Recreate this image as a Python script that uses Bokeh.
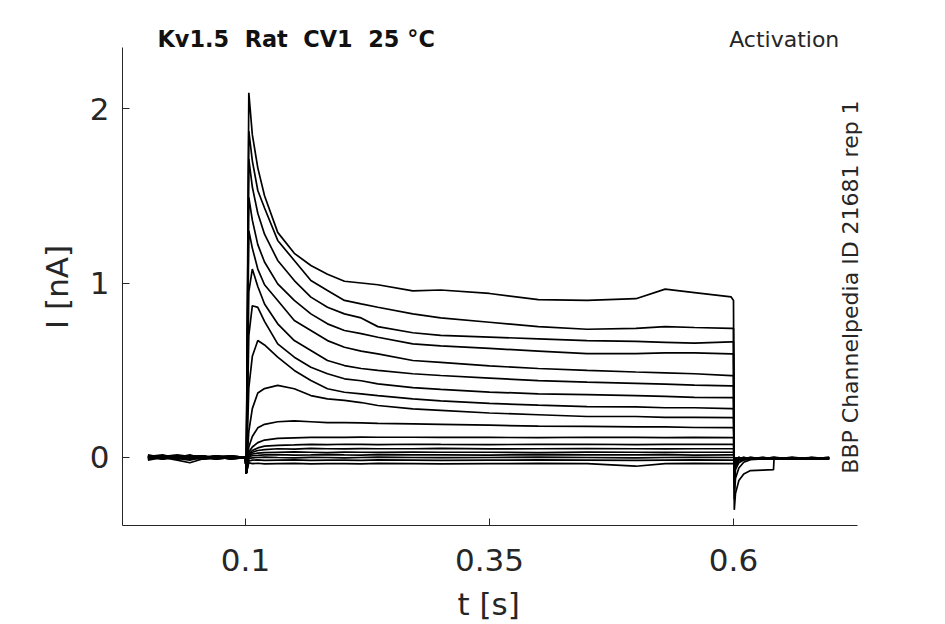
import math
from bokeh.plotting import figure
from bokeh.models import ColumnDataSource, Range1d, FixedTicker, Label
from bokeh.embed import file_html
from bokeh.resources import INLINE

# time grids [s]
PRE_T = [0.0, 0.015, 0.03, 0.043, 0.055, 0.07, 0.085]
STEP_T = [0.1, 0.1008, 0.1034, 0.107, 0.1126, 0.1195, 0.133, 0.15, 0.167, 0.184,
          0.2014, 0.2185, 0.2356, 0.2714, 0.30, 0.35, 0.40, 0.45, 0.50, 0.53, 0.56, 0.5976]
TAIL_T = [0.6, 0.6008, 0.602, 0.6055, 0.6105, 0.6174, 0.63, 0.641, 0.6415, 0.66, 0.68, 0.698]

# current [nA] before the step, one row per trace
PRE_I = [
    [0.005, 0.0, 0.01, -0.005, 0.0, 0.005, 0.0],
    [-0.005, 0.01, 0.0, 0.005, -0.01, 0.0, 0.01],
    [0.01, -0.005, 0.005, 0.0, 0.01, -0.005, 0.005],
    [0.0, 0.005, -0.01, 0.01, 0.0, 0.01, -0.005],
    [0.015, 0.0, 0.005, 0.01, 0.005, -0.01, 0.0],
    [-0.01, 0.005, 0.0, -0.005, 0.01, 0.0, 0.005],
    [0.0, -0.01, 0.01, 0.0, -0.005, 0.005, -0.01],
    [0.005, 0.015, -0.005, 0.005, 0.0, -0.005, 0.01],
    [-0.015, 0.0, 0.005, -0.01, -0.005, 0.01, 0.0],
    [0.0, 0.005, 0.015, 0.005, 0.01, 0.0, -0.005],
    [0.01, -0.01, 0.0, 0.015, -0.005, 0.005, 0.005],
    [-0.005, 0.005, -0.01, 0.0, 0.005, -0.01, 0.0],
    [0.005, -0.005, 0.01, -0.01, 0.005, 0.0, -0.005],
    [0.0, 0.01, -0.005, 0.005, -0.01, 0.005, 0.01],
    [-0.01, 0.0, 0.005, -0.005, 0.0, 0.01, -0.005],
    [0.005, -0.005, 0.0, 0.005, 0.01, -0.005, 0.0],
    [0.0, 0.005, -0.005, -0.015, 0.0, 0.005, -0.01],
    [-0.005, 0.0, -0.015, -0.03, -0.01, -0.005, 0.005],
]

# current [nA] during the step
STEP_I = [
    [0.0, -0.09, 2.09, 1.85, 1.66, 1.50, 1.29, 1.17, 1.10, 1.05, 1.01, 1.00, 0.99, 0.955, 0.96, 0.94, 0.905, 0.90, 0.91, 0.965, 0.945, 0.92],
    [0.0, -0.09, 1.87, 1.70, 1.53, 1.43, 1.244, 1.129, 1.014, 0.957, 0.90, 0.88, 0.861, 0.823, 0.80, 0.775, 0.75, 0.735, 0.74, 0.75, 0.745, 0.74],
    [0.0, -0.09, 1.71, 1.55, 1.40, 1.28, 1.129, 1.014, 0.919, 0.861, 0.823, 0.80, 0.75, 0.715, 0.70, 0.69, 0.68, 0.67, 0.665, 0.66, 0.655, 0.663],
    [0.0, -0.09, 1.49, 1.36, 1.22, 1.12, 0.995, 0.90, 0.823, 0.766, 0.728, 0.71, 0.689, 0.651, 0.64, 0.625, 0.61, 0.595, 0.595, 0.60, 0.60, 0.594],
    [0.0, -0.09, 1.30, 1.20, 1.08, 0.99, 0.90, 0.785, 0.728, 0.67, 0.632, 0.61, 0.594, 0.556, 0.545, 0.525, 0.51, 0.499, 0.49, 0.485, 0.48, 0.469],
    [0.0, -0.09, 0.95, 1.08, 0.98, 0.88, 0.766, 0.67, 0.613, 0.556, 0.527, 0.51, 0.499, 0.48, 0.47, 0.455, 0.44, 0.432, 0.425, 0.42, 0.415, 0.411],
    [0.0, -0.09, 0.70, 0.87, 0.86, 0.78, 0.651, 0.575, 0.517, 0.48, 0.451, 0.44, 0.422, 0.40, 0.39, 0.375, 0.365, 0.36, 0.355, 0.35, 0.345, 0.343],
    [0.0, -0.09, 0.40, 0.58, 0.67, 0.645, 0.575, 0.499, 0.441, 0.394, 0.374, 0.365, 0.355, 0.336, 0.325, 0.31, 0.30, 0.292, 0.29, 0.285, 0.285, 0.28],
    [0.0, -0.09, 0.15, 0.28, 0.37, 0.395, 0.413, 0.394, 0.355, 0.336, 0.327, 0.315, 0.298, 0.279, 0.27, 0.255, 0.245, 0.235, 0.235, 0.23, 0.23, 0.229],
    [0.0, -0.09, 0.06, 0.12, 0.17, 0.19, 0.205, 0.21, 0.205, 0.20, 0.20, 0.198, 0.196, 0.193, 0.19, 0.185, 0.18, 0.178, 0.175, 0.175, 0.172, 0.171],
    [0.0, -0.09, 0.03, 0.06, 0.085, 0.10, 0.11, 0.113, 0.115, 0.116, 0.115, 0.117, 0.116, 0.116, 0.115, 0.115, 0.114, 0.116, 0.115, 0.114, 0.115, 0.114],
    [0.0, -0.09, 0.02, 0.04, 0.055, 0.065, 0.07, 0.072, 0.075, 0.074, 0.076, 0.075, 0.074, 0.076, 0.075, 0.074, 0.075, 0.076, 0.074, 0.075, 0.076, 0.075],
    [0.0, -0.09, 0.015, 0.03, 0.04, 0.045, 0.05, 0.048, 0.052, 0.05, 0.049, 0.051, 0.05, 0.05, 0.052, 0.049, 0.05, 0.051, 0.05, 0.049, 0.05, 0.05],
    [0.0, -0.09, 0.01, 0.02, 0.025, 0.028, 0.03, 0.032, 0.03, 0.028, 0.031, 0.03, 0.029, 0.031, 0.03, 0.03, 0.028, 0.031, 0.03, 0.029, 0.03, 0.03],
    [0.0, -0.09, 0.005, 0.01, 0.012, 0.015, 0.016, 0.014, 0.015, 0.017, 0.015, 0.014, 0.016, 0.015, 0.015, 0.014, 0.016, 0.015, 0.015, 0.016, 0.014, 0.015],
    [0.0, -0.09, -0.005, -0.002, 0.0, 0.002, 0.0, -0.002, 0.001, 0.0, -0.002, 0.0, 0.002, 0.0, -0.001, 0.0, 0.002, 0.0, -0.002, 0.0, 0.001, 0.0],
    [0.0, -0.09, -0.02, -0.015, -0.014, -0.016, -0.015, -0.014, -0.016, -0.015, -0.015, -0.016, -0.014, -0.015, -0.016, -0.015, -0.014, -0.015, -0.016, -0.015, -0.014, -0.015],
    [0.0, -0.09, -0.03, -0.035, -0.033, -0.036, -0.035, -0.034, -0.036, -0.035, -0.035, -0.036, -0.034, -0.035, -0.036, -0.035, -0.034, -0.035, -0.05, -0.035, -0.034, -0.035],
]

# current [nA] at and after the end of the step
TAIL_I = [
    [0.90, -0.30, -0.207, -0.132, -0.094, -0.075, -0.072, -0.07, -0.01, -0.005, -0.01, -0.005],
    [0.74, -0.24, -0.12, -0.06, -0.027, -0.012, -0.008, -0.005, -0.005, 0.0, -0.005, -0.003],
    [0.663, -0.18, -0.07, -0.03, -0.015, -0.01, -0.005, -0.008, -0.008, -0.003, -0.008, -0.005],
    [0.594, -0.15, -0.05, -0.02, -0.01, -0.005, 0.0, -0.005, -0.005, -0.01, 0.0, -0.005],
    [0.469, -0.12, -0.04, -0.015, -0.005, 0.0, -0.005, 0.0, 0.0, -0.005, -0.01, 0.0],
    [0.411, -0.10, -0.03, -0.01, -0.005, -0.005, 0.0, -0.01, -0.01, 0.0, -0.005, -0.01],
    [0.343, -0.08, -0.025, -0.01, 0.0, -0.005, -0.01, -0.005, -0.005, -0.01, 0.0, -0.005],
    [0.28, -0.06, -0.02, -0.005, -0.01, 0.0, -0.005, 0.0, 0.0, -0.01, -0.005, 0.0],
    [0.229, -0.05, -0.015, -0.005, 0.0, -0.01, -0.005, -0.01, -0.01, 0.0, -0.01, -0.005],
    [0.171, -0.04, -0.01, 0.0, -0.005, -0.005, -0.01, 0.0, 0.0, -0.005, -0.01, -0.005],
    [0.114, -0.03, -0.01, -0.005, 0.0, -0.01, -0.005, -0.005, -0.005, 0.0, -0.01, -0.005],
    [0.075, -0.025, -0.01, -0.005, 0.0, -0.005, -0.01, -0.005, -0.005, -0.01, 0.0, -0.01],
    [0.05, -0.02, -0.005, 0.0, -0.005, -0.01, 0.0, -0.005, -0.005, -0.01, -0.005, 0.0],
    [0.03, -0.02, -0.005, -0.01, -0.005, 0.0, -0.005, -0.01, -0.01, -0.005, 0.0, -0.005],
    [0.015, -0.015, -0.005, 0.0, -0.01, -0.005, -0.005, 0.0, 0.0, -0.005, -0.01, -0.005],
    [0.0, -0.01, -0.005, -0.01, -0.005, 0.0, -0.01, -0.005, -0.005, 0.0, -0.005, -0.01],
    [-0.015, -0.01, -0.005, 0.0, -0.005, -0.01, -0.005, 0.0, 0.0, -0.01, -0.005, 0.0],
    [-0.035, -0.02, -0.01, -0.005, -0.01, -0.005, 0.0, -0.005, -0.005, -0.01, -0.005, 0.0],
]

X_TICKS = [0.1, 0.35, 0.6]
X_TICK_LABELS = ["0.1", "0.35", "0.6"]
Y_TICKS = [0, 1, 2]
Y_TICK_LABELS = ["0", "1", "2"]

# axis limits (drawn spines) and the wider plotting area that also holds the texts
X_LIM = (-0.02602, 0.72705)
Y_LIM = (-0.3897, 2.3496)
X_VIEW = (-0.02602, 0.73422)
Y_VIEW = (-0.3897, 2.4585)

NB = "\u00a0"
TITLE = "Kv1.5" + NB * 2 + "Rat" + NB * 2 + "CV1" + NB * 2 + "25" + NB + "\u00b0C"
RIGHT_TITLE = "Activation"
SIDE_TEXT = "BBP Channelpedia ID 21681 rep 1"
X_LABEL = "t [s]" + NB
Y_LABEL = "I [nA]" + NB * 2

TXT = "#262626"
FONT = "DejaVu Sans"

xs = [PRE_T + STEP_T + TAIL_T for _ in STEP_I]
ys = [PRE_I[k] + STEP_I[k] + TAIL_I[k] for k in range(len(STEP_I))]
src = ColumnDataSource(dict(xs=xs, ys=ys))

p = figure(width=929, height=624, output_backend="svg", toolbar_location=None,
           x_range=Range1d(*X_VIEW), y_range=Range1d(*Y_VIEW),
           min_border_left=122, min_border_right=65, min_border_top=28, min_border_bottom=99)
p.background_fill_color = "white"
p.border_fill_color = "white"
p.outline_line_color = None
p.grid.visible = False

p.multi_line(xs="xs", ys="ys", source=src, line_color="black", line_width=1.7)

for ax in (p.xaxis[0], p.yaxis[0]):
    ax.axis_line_color = TXT
    ax.axis_line_width = 1
    ax.major_tick_line_color = TXT
    ax.major_tick_in = 7
    ax.major_tick_out = 0
    ax.minor_tick_line_color = None
    ax.major_label_text_font = FONT
    ax.major_label_text_font_size = "31px"
    ax.major_label_text_color = TXT
    ax.axis_label_text_font = FONT
    ax.axis_label_text_font_size = "31px"
    ax.axis_label_text_font_style = "normal"
    ax.axis_label_text_color = TXT

p.xaxis.bounds = X_LIM
p.yaxis.bounds = Y_LIM
p.xaxis.ticker = FixedTicker(ticks=X_TICKS)
p.xaxis.major_label_overrides = {t: l for t, l in zip(X_TICKS, X_TICK_LABELS)}
p.xaxis.major_label_standoff = 23
p.xaxis.axis_label = X_LABEL
p.xaxis.axis_label_standoff = 12
p.yaxis.ticker = FixedTicker(ticks=Y_TICKS)
p.yaxis.major_label_overrides = {t: l for t, l in zip(Y_TICKS, Y_TICK_LABELS)}
p.yaxis.major_label_standoff = 13
p.yaxis.axis_label = Y_LABEL
p.yaxis.axis_label_standoff = 12

p.add_layout(Label(x=0.0098, y=2.398, text=TITLE, text_font=FONT, text_font_style="bold",
                   text_font_size="22.4px", text_color="#111111", text_align="left",
                   text_baseline="alphabetic"))
p.add_layout(Label(x=0.7084, y=2.398, text=RIGHT_TITLE, text_font=FONT,
                   text_font_size="22px", text_color=TXT, text_align="right",
                   text_baseline="alphabetic"))
p.add_layout(Label(x=0.7199, y=0.977, text=SIDE_TEXT, text_font=FONT, angle=math.pi / 2,
                   text_font_size="22px", text_color=TXT, text_align="center",
                   text_baseline="alphabetic"))

open("out.html", "w").write(file_html(p, INLINE))
